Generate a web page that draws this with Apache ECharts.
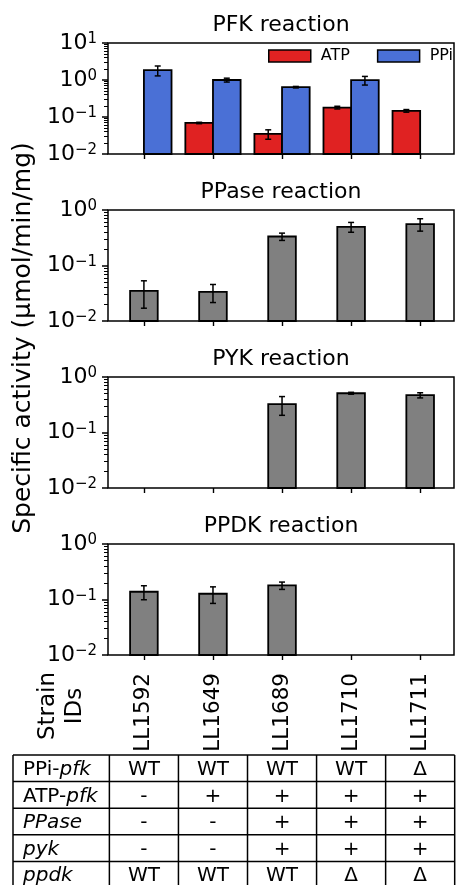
<!DOCTYPE html>
<html><head><meta charset="utf-8">
<script src="https://cdn.jsdelivr.net/npm/echarts@6/dist/echarts.min.js"></script>
<style>html,body{margin:0;padding:0;background:#fff}#c{width:456px;height:885px}</style>
</head><body><div id="c"></div>
<script>
// ---- data ----
const strainIDs = ['LL1592', 'LL1649', 'LL1689', 'LL1710', 'LL1711'];
const strainPos = [0, 1, 2, 3, 4];
const panelTitles = ['PFK reaction', 'PPase reaction', 'PYK reaction', 'PPDK reaction'];
const pfkATP = [null, 0.069, 0.035, 0.18, 0.147];
const pfkATPErr = [null, 0.003, 0.010, 0.015, 0.012];
const pfkPPi = [1.84, 1.0, 0.64, 0.99, null];
const pfkPPiErr = [0.55, 0.12, 0.03, 0.26, null];
const ppase = [0.035, 0.0335, 0.333, 0.497, 0.556];
const ppaseErr = [0.018, 0.012, 0.05, 0.10, 0.14];
const pyk = [null, null, 0.324, 0.51, 0.47];
const pykErr = [null, null, 0.12, 0.02, 0.05];
const ppdk = [0.138, 0.127, 0.179, null, null];
const ppdkErr = [0.039, 0.042, 0.027, null, null];
const yMaxes = [10, 1, 1, 1];
const yMin = 0.01;
const tableRowLabels = [
  [{t: 'PPi-', i: false}, {t: 'pfk', i: true}],
  [{t: 'ATP-', i: false}, {t: 'pfk', i: true}],
  [{t: 'PPase', i: true}],
  [{t: 'pyk', i: true}],
  [{t: 'ppdk', i: true}]
];
const tableCells = [
  ['WT', 'WT', 'WT', 'WT', 'Δ'],
  ['-', '+', '+', '+', '+'],
  ['-', '-', '+', '+', '+'],
  ['-', '-', '+', '+', '+'],
  ['WT', 'WT', 'WT', 'Δ', 'Δ']
];
const yLabel = 'Specific activity (µmol/min/mg)';
const strainHeader = 'Strain\nIDs';

// ---- style ----
const FONT = 'DejaVu Sans';
const RED = '#e02222';
const BLUE = '#4a70d6';
const GREY = '#808080';
const BAR_W = 0.4;
const X_MIN = -0.52, X_MAX = 4.49;
const grids = [
  {left: 108, top: 43, width: 346, height: 111},
  {left: 108, top: 210, width: 346, height: 111},
  {left: 108, top: 377, width: 346, height: 111},
  {left: 108, top: 544, width: 346, height: 111}
];

function toData(vals, errs) {
  const out = [];
  vals.forEach((v, i) => { if (v != null) out.push([strainPos[i], v, errs[i] || 0]); });
  return out;
}

function barRenderer(offset, color) {
  return function (params, api) {
    const x = api.value(0) + offset, v = api.value(1), e = api.value(2);
    const tl = api.coord([x - BAR_W / 2, v]);
    const br = api.coord([x + BAR_W / 2, yMin]);
    const children = [{
      type: 'rect',
      shape: {x: tl[0], y: tl[1], width: br[0] - tl[0], height: br[1] - tl[1]},
      style: {fill: color, stroke: '#000', lineWidth: 1.8}
    }];
    if (e) {
      const top = api.coord([x, v + e]);
      const bot = api.coord([x, Math.max(v - e, yMin)]);
      const ls = {stroke: '#000', lineWidth: 1.5};
      children.push({type: 'line', shape: {x1: top[0], y1: top[1], x2: bot[0], y2: bot[1]}, style: ls});
      children.push({type: 'line', shape: {x1: top[0] - 3, y1: top[1], x2: top[0] + 3, y2: top[1]}, style: ls});
      children.push({type: 'line', shape: {x1: bot[0] - 3, y1: bot[1], x2: bot[0] + 3, y2: bot[1]}, style: ls});
    }
    return {type: 'group', children};
  };
}

const xAxes = [], yAxes = [];
grids.forEach((g, i) => {
  xAxes.push({
    type: 'value', gridIndex: i, min: X_MIN, max: X_MAX, position: 'bottom',
    axisLine: {show: false, onZero: false}, splitLine: {show: false},
    axisTick: {show: true, length: 5, customValues: strainPos, lineStyle: {color: '#000', width: 1.4}},
    axisLabel: i === 3 ? {
      show: true, customValues: strainPos, formatter: v => strainIDs[Math.round(v)],
      rotate: 90, margin: 18, fontSize: 21.5, color: '#000', fontFamily: FONT
    } : {show: false}
  });
  const majors = [], minors = [];
  for (let k = -2; Math.pow(10, k) <= yMaxes[i] * 1.0001; k++) {
    majors.push(Math.pow(10, k));
    if (Math.pow(10, k) < yMaxes[i]) for (let m = 2; m <= 9; m++) minors.push(m * Math.pow(10, k));
  }
  yAxes.push({
    type: 'log', logBase: 10, gridIndex: i, min: yMin, max: yMaxes[i], position: 'left',
    axisLine: {show: false, onZero: false}, splitLine: {show: false},
    axisTick: {show: true, length: 6, customValues: majors, lineStyle: {color: '#000', width: 1.5}},
    axisLabel: {
      show: true, customValues: majors, margin: 11,
      formatter: v => {
        const k = Math.round(Math.log10(v));
        return '{b|10}{s|' + (k < 0 ? '\u2212' + (-k) : k) + '}';
      },
      rich: {
        b: {fontSize: 22, lineHeight: 22, fontFamily: FONT, color: '#000'},
        s: {fontSize: 15, lineHeight: 15, fontFamily: FONT, color: '#000', verticalAlign: 'top'}
      }
    }
  });
  yAxes.push({
    type: 'log', logBase: 10, gridIndex: i, min: yMin, max: yMaxes[i], position: 'left',
    axisLine: {show: false, onZero: false}, splitLine: {show: false}, axisLabel: {show: false},
    axisTick: {show: true, length: 4, customValues: minors, lineStyle: {color: '#000', width: 1}}
  });
});

const series = [
  {name: 'ATP', data: toData(pfkATP, pfkATPErr), panel: 0, off: -BAR_W / 2, color: RED},
  {name: 'PPi', data: toData(pfkPPi, pfkPPiErr), panel: 0, off: BAR_W / 2, color: BLUE},
  {name: 'PPase', data: toData(ppase, ppaseErr), panel: 1, off: 0, color: GREY},
  {name: 'PYK', data: toData(pyk, pykErr), panel: 2, off: 0, color: GREY},
  {name: 'PPDK', data: toData(ppdk, ppdkErr), panel: 3, off: 0, color: GREY}
].map(s => ({
  type: 'custom', name: s.name, xAxisIndex: s.panel, yAxisIndex: s.panel * 2,
  encode: {x: 0, y: 1}, data: s.data, clip: false,
  itemStyle: {color: s.color, borderColor: '#000', borderWidth: 1.5},
  renderItem: barRenderer(s.off, s.color)
}));

// ---- titles, axis title and table (positions follow the x-axis scale) ----
const g4 = grids[3];
const px = v => g4.left + (v - X_MIN) / (X_MAX - X_MIN) * g4.width;
const titleY = [25.5, 192.5, 359.5, 526.5];
const graphics = [];
panelTitles.forEach((t, i) => {
  graphics.push({type: 'text', x: grids[i].left + grids[i].width / 2, y: titleY[i],
    style: {text: t, font: '22px "DejaVu Sans"', fill: '#000', align: 'center', verticalAlign: 'middle'}});
});
graphics.push({type: 'text', x: 23, y: 338, rotation: Math.PI / 2,
  style: {text: yLabel, font: '25px "DejaVu Sans"', fill: '#000', align: 'center', verticalAlign: 'middle'}});
graphics.push({type: 'text', x: 62, y: 706, rotation: Math.PI / 2,
  style: {text: strainHeader, font: '23px "DejaVu Sans"', lineHeight: 27, fill: '#000', align: 'center', verticalAlign: 'middle'}});

const tTop = 755, rowH = 26.6, tLeft = 13;
const tRight = px(4.5);
const lineStyle = {stroke: '#000', lineWidth: 1.5};
for (let r = 0; r <= tableCells.length; r++) {
  const y = tTop + r * rowH;
  graphics.push({type: 'line', shape: {x1: tLeft, y1: y, x2: tRight, y2: y}, style: lineStyle});
}
const tBottom = tTop + tableCells.length * rowH;
const vx = [tLeft].concat(strainPos.map(p => px(p - 0.5)), [tRight]);
vx.forEach(x => graphics.push({type: 'line', shape: {x1: x, y1: tTop, x2: x, y2: tBottom}, style: lineStyle}));
tableRowLabels.forEach((parts, r) => {
  const y = tTop + (r + 0.5) * rowH + 1.5;
  const txt = parts.map(p => '{' + (p.i ? 'i' : 'n') + '|' + p.t + '}').join('');
  graphics.push({type: 'text', x: 23, y: y, style: {
    text: txt, fill: '#000', align: 'left', verticalAlign: 'middle',
    rich: {n: {fontSize: 20, fontFamily: FONT, fill: '#000'}, i: {fontSize: 20, fontFamily: FONT, fontStyle: 'italic', fill: '#000'}}
  }});
  tableCells[r].forEach((c, j) => {
    graphics.push({type: 'text', x: px(strainPos[j]), y: y, style: {
      text: c, font: '20px "DejaVu Sans"', fill: '#000', align: 'center', verticalAlign: 'middle'}});
  });
});

const chart = echarts.init(document.getElementById('c'), null, {renderer: 'canvas'});
chart.setOption({
  animation: false,
  backgroundColor: '#fff',
  textStyle: {fontFamily: FONT},
  grid: grids.map(g => Object.assign({show: true, borderColor: '#000', borderWidth: 1.5, backgroundColor: 'transparent'}, g)),
  xAxis: xAxes,
  yAxis: yAxes,
  legend: {
    data: ['ATP', 'PPi'], left: 268, top: 48, itemWidth: 42, itemHeight: 12, itemGap: 27,
    icon: 'rect', padding: 0,
    itemStyle: {borderColor: '#000', borderWidth: 1.5},
    textStyle: {fontSize: 16, color: '#000', fontFamily: FONT, padding: [0, 0, 0, 5]}
  },
  series,
  graphic: graphics
});
</script></body></html>
